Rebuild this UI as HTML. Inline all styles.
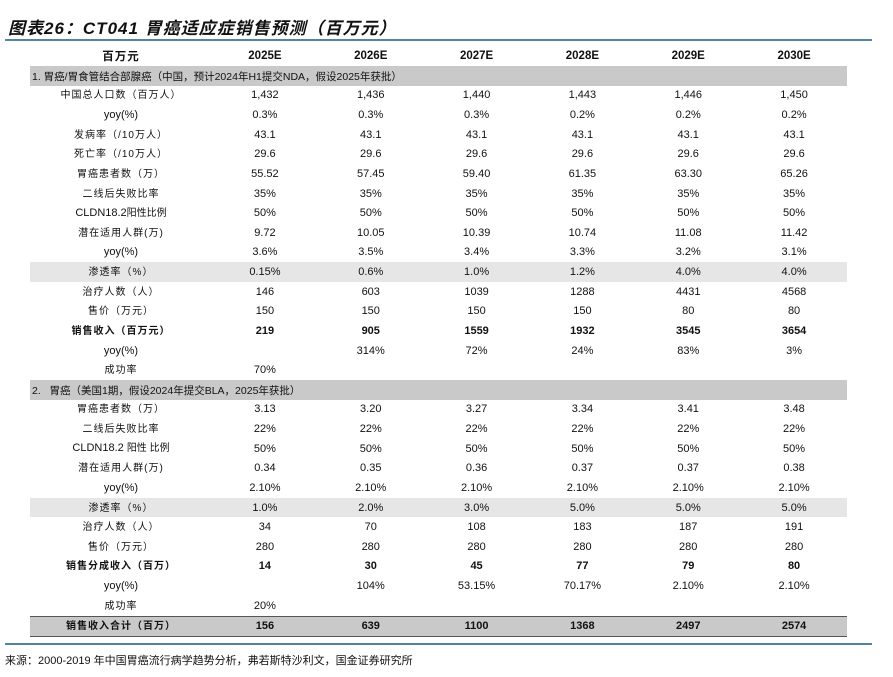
<!DOCTYPE html>
<html><head><meta charset="utf-8"><style>
body{margin:0;width:893px;height:677px;background:#fff;position:relative;overflow:hidden;font-family:"Liberation Sans","Noto Sans CJK SC",sans-serif;color:#111}
.title{position:absolute;left:8px;top:14px;font-size:17px;font-weight:bold;font-style:italic;letter-spacing:1px}
.bl{position:absolute;left:5px;width:867px;height:2px;background:#4f84a3}
table{position:absolute;left:30px;top:45px;border-collapse:collapse;table-layout:fixed;width:817px}
td{height:19.64px;padding:0;text-align:center;font-size:11px;white-space:nowrap;line-height:12px;vertical-align:middle}
td.l{font-size:10px;letter-spacing:1px;padding-top:2px;height:17.64px}
tr.h td{height:21px;font-weight:bold;font-size:11.5px}
tr.h td.l{height:19px}
tr.s td{background:#c9c9c9;text-align:left;padding-left:2px;font-size:10.5px;padding-top:2px;height:17.64px}
tr.g td{background:#e6e6e6}
tr.b td{font-weight:bold}
tr.t td{background:#c9c9c9;font-weight:bold;border-top:1.5px solid #555;border-bottom:1.5px solid #555}
.src{position:absolute;left:5px;top:652px;font-size:11px}
</style></head><body>
<div class="title">图表26：CT041 胃癌适应症销售预测（百万元）</div>
<div class="bl" style="top:39px"></div>
<table>
<colgroup><col style="width:182px"><col><col><col><col><col><col></colgroup>
<tr class="h"><td class="l">百万元</td><td>2025E</td><td>2026E</td><td>2027E</td><td>2028E</td><td>2029E</td><td>2030E</td></tr>
<tr class="s"><td colspan="7">1. 胃癌/胃食管结合部腺癌（中国，预计2024年H1提交NDA，假设2025年获批）</td></tr>
<tr><td class="l">中国总人口数（百万人）</td><td>1,432</td><td>1,436</td><td>1,440</td><td>1,443</td><td>1,446</td><td>1,450</td></tr>
<tr><td>yoy(%)</td><td>0.3%</td><td>0.3%</td><td>0.3%</td><td>0.2%</td><td>0.2%</td><td>0.2%</td></tr>
<tr><td class="l">发病率（/10万人）</td><td>43.1</td><td>43.1</td><td>43.1</td><td>43.1</td><td>43.1</td><td>43.1</td></tr>
<tr><td class="l">死亡率（/10万人）</td><td>29.6</td><td>29.6</td><td>29.6</td><td>29.6</td><td>29.6</td><td>29.6</td></tr>
<tr><td class="l">胃癌患者数（万）</td><td>55.52</td><td>57.45</td><td>59.40</td><td>61.35</td><td>63.30</td><td>65.26</td></tr>
<tr><td class="l">二线后失败比率</td><td>35%</td><td>35%</td><td>35%</td><td>35%</td><td>35%</td><td>35%</td></tr>
<tr><td>CLDN18.2<span style="font-size:10px">阳性比例</span></td><td>50%</td><td>50%</td><td>50%</td><td>50%</td><td>50%</td><td>50%</td></tr>
<tr><td class="l">潜在适用人群(万)</td><td>9.72</td><td>10.05</td><td>10.39</td><td>10.74</td><td>11.08</td><td>11.42</td></tr>
<tr><td>yoy(%)</td><td>3.6%</td><td>3.5%</td><td>3.4%</td><td>3.3%</td><td>3.2%</td><td>3.1%</td></tr>
<tr class="g"><td class="l">渗透率（%）</td><td>0.15%</td><td>0.6%</td><td>1.0%</td><td>1.2%</td><td>4.0%</td><td>4.0%</td></tr>
<tr><td class="l">治疗人数（人）</td><td>146</td><td>603</td><td>1039</td><td>1288</td><td>4431</td><td>4568</td></tr>
<tr><td class="l">售价（万元）</td><td>150</td><td>150</td><td>150</td><td>150</td><td>80</td><td>80</td></tr>
<tr class="b"><td class="l">销售收入（百万元）</td><td>219</td><td>905</td><td>1559</td><td>1932</td><td>3545</td><td>3654</td></tr>
<tr><td>yoy(%)</td><td></td><td>314%</td><td>72%</td><td>24%</td><td>83%</td><td>3%</td></tr>
<tr><td class="l">成功率</td><td>70%</td><td></td><td></td><td></td><td></td><td></td></tr>
<tr class="s"><td colspan="7">2.&nbsp;&nbsp;&nbsp;胃癌（美国1期，假设2024年提交BLA，2025年获批）</td></tr>
<tr><td class="l">胃癌患者数（万）</td><td>3.13</td><td>3.20</td><td>3.27</td><td>3.34</td><td>3.41</td><td>3.48</td></tr>
<tr><td class="l">二线后失败比率</td><td>22%</td><td>22%</td><td>22%</td><td>22%</td><td>22%</td><td>22%</td></tr>
<tr><td>CLDN18.2 <span style="font-size:10px">阳性 比例</span></td><td>50%</td><td>50%</td><td>50%</td><td>50%</td><td>50%</td><td>50%</td></tr>
<tr><td class="l">潜在适用人群(万)</td><td>0.34</td><td>0.35</td><td>0.36</td><td>0.37</td><td>0.37</td><td>0.38</td></tr>
<tr><td>yoy(%)</td><td>2.10%</td><td>2.10%</td><td>2.10%</td><td>2.10%</td><td>2.10%</td><td>2.10%</td></tr>
<tr class="g"><td class="l">渗透率（%）</td><td>1.0%</td><td>2.0%</td><td>3.0%</td><td>5.0%</td><td>5.0%</td><td>5.0%</td></tr>
<tr><td class="l">治疗人数（人）</td><td>34</td><td>70</td><td>108</td><td>183</td><td>187</td><td>191</td></tr>
<tr><td class="l">售价（万元）</td><td>280</td><td>280</td><td>280</td><td>280</td><td>280</td><td>280</td></tr>
<tr class="b"><td class="l">销售分成收入（百万）</td><td>14</td><td>30</td><td>45</td><td>77</td><td>79</td><td>80</td></tr>
<tr><td>yoy(%)</td><td></td><td>104%</td><td>53.15%</td><td>70.17%</td><td>2.10%</td><td>2.10%</td></tr>
<tr><td class="l">成功率</td><td>20%</td><td></td><td></td><td></td><td></td><td></td></tr>
<tr class="t"><td class="l">销售收入合计（百万）</td><td>156</td><td>639</td><td>1100</td><td>1368</td><td>2497</td><td>2574</td></tr>
</table>
<div class="bl" style="top:643px"></div>
<div class="src">来源：2000-2019 年中国胃癌流行病学趋势分析，弗若斯特沙利文，国金证券研究所</div>
</body></html>
